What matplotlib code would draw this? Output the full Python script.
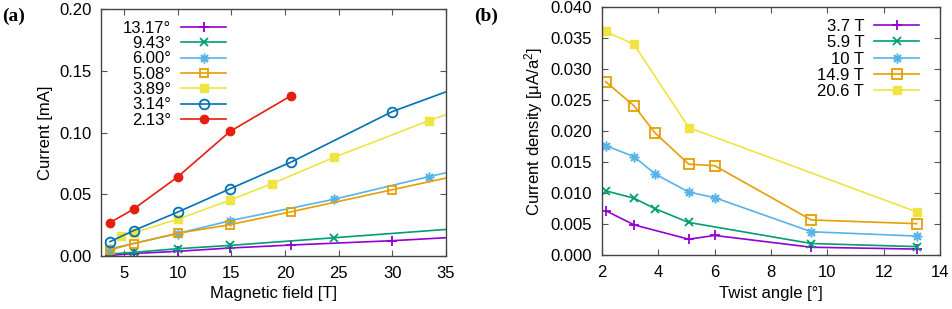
import matplotlib
matplotlib.use('Agg')
import matplotlib.pyplot as plt

plt.rcParams['font.family'] = ['Liberation Sans', 'DejaVu Sans']
plt.rcParams['font.size'] = 12
plt.rcParams['mathtext.fontset'] = 'custom'
plt.rcParams['mathtext.rm'] = 'Liberation Sans'
plt.rcParams['mathtext.it'] = 'Liberation Sans'

# colours (gnuplot default palette)
c_purple = '#9400d3'
c_green = '#009e73'
c_lblue = '#56b4e9'
c_orange = '#e69f00'
c_yellow = '#f0e442'
c_blue = '#0072b2'
c_red = '#e51e10'

# ---- panel (a): current vs field, one curve per twist angle
B_1317 = [3.7, 5.9, 10, 14.9, 20.6, 30, 45]
I_1317 = [0.0005, 0.0020, 0.0038, 0.0065, 0.0089, 0.0124, 0.0196]
B_943 = [3.7, 5.9, 10, 14.9, 24.6, 45]
I_943 = [0.0016, 0.0030, 0.0059, 0.0086, 0.0148, 0.0280]
B_600 = [3.7, 10, 14.9, 24.6, 33.4, 45]
I_600 = [0.0058, 0.0182, 0.0286, 0.0460, 0.0643, 0.0870]
B_508 = [3.7, 5.9, 10, 14.9, 20.6, 30, 45]
I_508 = [0.0049, 0.0101, 0.0184, 0.0254, 0.0359, 0.0537, 0.0820]
B_389 = [4.75, 5.9, 10, 14.9, 18.8, 24.6, 33.4, 45]
I_389 = [0.0162, 0.0189, 0.0297, 0.0454, 0.0586, 0.0800, 0.1096, 0.1450]
B_314 = [3.7, 5.9, 10, 14.9, 20.6, 30, 45]
I_314 = [0.0116, 0.0206, 0.0355, 0.0545, 0.0762, 0.1170, 0.1650]
B_213 = [3.7, 5.9, 10, 14.9, 20.6]
I_213 = [0.0270, 0.0380, 0.0640, 0.1010, 0.1300]

# ---- panel (b): current density vs twist angle, one curve per field
ang_37 = [2.13, 3.14, 5.08, 6.00, 9.43, 13.17]
J_37 = [0.0072, 0.0049, 0.0026, 0.0032, 0.0013, 0.0010]
ang_59 = [2.13, 3.14, 3.89, 5.08, 9.43, 13.17]
J_59 = [0.0104, 0.0092, 0.0075, 0.0053, 0.0019, 0.0014]
ang_10 = [2.13, 3.14, 3.89, 5.08, 6.00, 9.43, 13.17]
J_10 = [0.0177, 0.0159, 0.0131, 0.0102, 0.0093, 0.0038, 0.0031]
ang_149 = [2.13, 3.14, 3.89, 5.08, 6.00, 9.43, 13.17]
J_149 = [0.0280, 0.0241, 0.0197, 0.0147, 0.01445, 0.0057, 0.0051]
ang_206 = [2.13, 3.14, 5.08, 13.17]
J_206 = [0.0361, 0.0340, 0.0206, 0.0070]

star = (8, 2, 0)
lw = 1.2
ms = 6

fig = plt.figure(figsize=(9.53, 3.09), dpi=100)
ax1 = fig.add_axes([0.106, 0.1715, 0.362, 0.799])
ax2 = fig.add_axes([0.6317, 0.1738, 0.3547, 0.8026])

ax1.plot(B_1317, I_1317, color=c_purple, marker='+', ms=ms+1, mew=1.3, lw=lw, label='13.17°')
ax1.plot(B_943, I_943, color=c_green, marker='x', ms=ms, mew=1.3, lw=lw, label='9.43°')
ax1.plot(B_600, I_600, color=c_lblue, marker=star, ms=ms+1, mew=1.1, lw=lw, label='6.00°')
ax1.plot(B_508, I_508, color=c_orange, marker='s', mfc='none', ms=ms, mew=1.3, lw=lw, label='5.08°')
ax1.plot(B_389, I_389, color=c_yellow, marker='s', ms=ms-0.5, lw=lw, label='3.89°')
ax1.plot(B_314, I_314, color=c_blue, marker='o', mfc='none', ms=ms+1, mew=1.3, lw=lw, label='3.14°')
ax1.plot(B_213, I_213, color=c_red, marker='o', ms=ms, lw=lw, label='2.13°')

ax1.set_xlim(2.87, 35)
ax1.set_ylim(0, 0.2)
ax1.set_xticks([5, 10, 15, 20, 25, 30, 35])
ax1.set_yticks([0, 0.05, 0.10, 0.15, 0.20])
ax1.set_yticklabels(['0.00', '0.05', '0.10', '0.15', '0.20'])
ax1.set_xlabel('Magnetic field [T]')
ax1.set_ylabel('Current [mA]')

ax2.plot(ang_37, J_37, color=c_purple, marker='+', ms=ms+1, mew=1.3, lw=lw, label='3.7 T')
ax2.plot(ang_59, J_59, color=c_green, marker='x', ms=ms, mew=1.3, lw=lw, label='5.9 T')
ax2.plot(ang_10, J_10, color=c_lblue, marker=star, ms=ms+1, mew=1.1, lw=lw, label='10 T')
ax2.plot(ang_149, J_149, color=c_orange, marker='s', mfc='none', ms=ms+1, mew=1.3, lw=lw, label='14.9 T')
ax2.plot(ang_206, J_206, color=c_yellow, marker='s', ms=ms, lw=lw, label='20.6 T')

ax2.set_xlim(2, 14)
ax2.set_ylim(0, 0.04)
ax2.set_xticks([2, 4, 6, 8, 10, 12, 14])
ax2.set_yticks([0, 0.005, 0.010, 0.015, 0.020, 0.025, 0.030, 0.035, 0.040])
ax2.set_yticklabels(['0.000', '0.005', '0.010', '0.015', '0.020', '0.025', '0.030', '0.035', '0.040'])
ax2.set_xlabel('Twist angle [°]')
ax2.set_ylabel(r'Current density [μA/a$^2$]')

for ax in (ax1, ax2):
    ax.tick_params(direction='in', top=True, right=True, length=4, width=0.8,
                   color='#555555', pad=7, labelsize=12)
    for s in ax.spines.values():
        s.set_color('#444444')
        s.set_linewidth(1.0)

# markerfirst=False right-aligns the labels against the samples, like a gnuplot key
leg1 = ax1.legend(loc='upper left', bbox_to_anchor=(0.03, 1.0), frameon=False,
                  markerfirst=False, handlelength=2.7, handletextpad=0.6,
                  labelspacing=0.02, borderaxespad=0.3)
leg2 = ax2.legend(loc='upper right', bbox_to_anchor=(0.973, 1.0), frameon=False,
                  markerfirst=False, handlelength=2.7, handletextpad=0.6,
                  labelspacing=0.08, borderaxespad=0.3)

fig.text(0.002, 0.975, '(a)', family='Liberation Serif', fontsize=14,
         fontweight='bold', va='top')
fig.text(0.497, 0.975, '(b)', family='Liberation Serif', fontsize=14,
         fontweight='bold', va='top')

plt.savefig('out.png', dpi=100)
